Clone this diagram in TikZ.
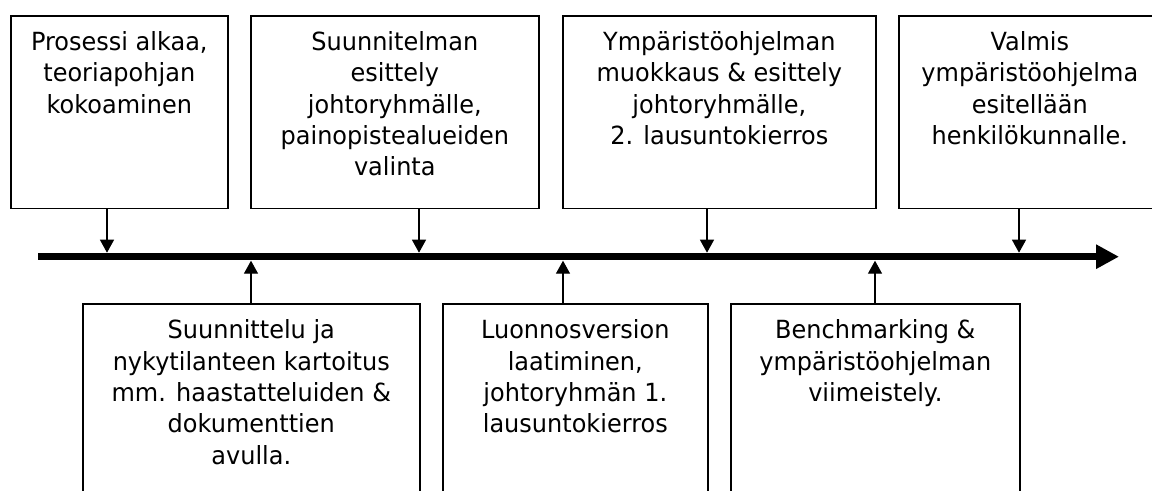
\documentclass[tikz,border=0pt]{standalone}
\usepackage{fontspec}
\setmainfont[FakeStretch=0.96]{DejaVu Sans}
\usetikzlibrary{arrows.meta}
\begin{document}
\begin{tikzpicture}[x=0.75pt,y=-0.75pt,
  box/.style={draw=black, line width=1.2pt, inner sep=0pt, anchor=north west, fill=white},
  topbox/.style={box, minimum height=144.4pt},
  botbox/.style={box, minimum height=150pt},
  txt/.style={anchor=north, align=center, inner sep=0pt, yshift=-10pt,
    font=\fontsize{18.75pt}{23.5pt}\selectfont},
  conn/.style={line width=1pt, -{Triangle[length=9.75pt,width=10.5pt]}},
  axis/.style={line width=5.6pt, -{Triangle[length=17.25pt,width=17.25pt]}}]
\useasboundingbox (0,0) rectangle (1152,491);
\clip (0,0) rectangle (1152,491);

% timeline
\coordinate (a0) at (38,256.7);
\coordinate (a1) at (1119,256.7);
\draw[axis] (a0) -- (a1);

% top boxes
\node[topbox, minimum width=162.75pt] (t1) at (10,15) {};
\node[topbox, minimum width=216pt] (t2) at (250,15) {};
\node[topbox, minimum width=234.75pt] (t3) at (562,15) {};
\node[topbox, minimum width=196.5pt] (t4) at (898,15) {};

% bottom boxes
\node[botbox, minimum width=252.75pt] (b1) at (82,303.3) {};
\node[botbox, minimum width=198.75pt] (b2) at (442,303.3) {};
\node[botbox, minimum width=216.75pt] (b3) at (730,303.3) {};

% texts
\node[txt] (t1x) at (t1.north) {\strut Prosessi alkaa,\\teoriapohjan\\kokoaminen};
\node[txt] (t2x) at (t2.north) {\strut Suunnitelman\\esittely\\johtoryhmälle,\\painopistealueiden\\valinta};
\node[txt] (t3x) at (t3.north) {\strut Ympäristöohjelman\\muokkaus \& esittely\\johtoryhmälle,\\2. lausuntokierros};
\node[txt] (t4x) at (t4.north) {\strut Valmis\\ympäristöohjelma\\esitellään\\henkilökunnalle.};
\node[txt] (b1x) at (b1.north) {\strut Suunnittelu ja\\nykytilanteen kartoitus\\mm. haastatteluiden \&\\dokumenttien\\avulla.};
\node[txt] (b2x) at (b2.north) {\strut Luonnosversion\\laatiminen,\\johtoryhmän 1.\\lausuntokierros};
\node[txt] (b3x) at (b3.north) {\strut Benchmarking \&\\ympäristöohjelman\\viimeistely.};

% connector end points on the timeline
\coordinate (d1) at (107,252.7);
\coordinate (d2) at (419,252.7);
\coordinate (d3) at (707,252.7);
\coordinate (d4) at (1019,252.7);
\coordinate (u1) at (251,260.7);
\coordinate (u2) at (563,260.7);
\coordinate (u3) at (875,260.7);

\draw[conn] (t1.south -| d1) -- (d1);
\draw[conn] (t2.south -| d2) -- (d2);
\draw[conn] (t3.south -| d3) -- (d3);
\draw[conn] (t4.south -| d4) -- (d4);
\draw[conn] (b1.north -| u1) -- (u1);
\draw[conn] (b2.north -| u2) -- (u2);
\draw[conn] (b3.north -| u3) -- (u3);
\end{tikzpicture}
\end{document}
